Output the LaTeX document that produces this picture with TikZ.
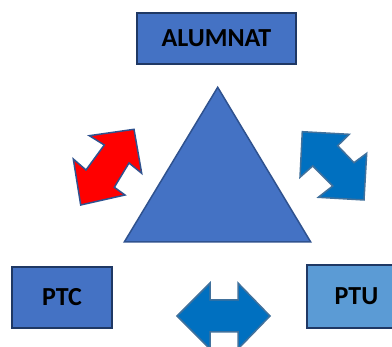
\documentclass[tikz,border=0pt]{standalone}
\usepackage{fontspec}
\setmainfont{Carlito}
\usepackage{tikz}

\definecolor{boxblue}{HTML}{4472C4}
\definecolor{boxlight}{HTML}{5B9BD5}
\definecolor{boxedge}{HTML}{1F3864}
\definecolor{arrblue}{HTML}{0070C0}
\definecolor{arredge}{HTML}{41719C}
\definecolor{triedge}{HTML}{2F528F}

\begin{document}
\begin{tikzpicture}[x=1pt,y=-1pt,
    main_box/.style={rectangle,draw=boxedge,line width=2pt,fill=boxblue,inner sep=0pt,
        font=\fontsize{26}{28}\selectfont\bfseries},
    blue_arrow/.style={fill=arrblue,draw=arredge,line width=1.5pt,line join=miter},
    red_arrow/.style={fill=red,draw=triedge,line width=1.5pt,line join=miter}]
    \useasboundingbox (0,0) rectangle (392,347);
	\node[main_box,minimum width=159pt,minimum height=51pt] (alumnat) at (216.5,38.5) {ALUMNAT};
    \node[main_box,minimum width=100pt,minimum height=61pt] (ptc) at (62,297.5) {PTC};
    \node[main_box,fill=boxlight,minimum width=99pt,minimum height=63pt] (ptu) at (356.5,296.5) {PTU};
    % triangle
    \draw[fill=boxblue,draw=triedge,line width=1.5pt,line join=miter]
        (217.7,87.3) -- (124.3,242) -- (310.7,242) -- cycle;
    % arrows
    \draw[red_arrow] (134,129.3) -- (141.7,173.3) -- (129,163) -- (114.3,187.3) -- (125,195)
        -- (80.7,205) -- (73.3,159) -- (86,170) -- (104.3,145) -- (89.3,135.7) -- cycle;
    \draw[blue_arrow] (302.3,131.7) -- (349.3,134.3) -- (337.7,145.7) -- (354,162.7) -- (366.7,153.3)
        -- (364,200) -- (318.3,197.3) -- (332.7,186) -- (312.7,166) -- (300,177.3) -- cycle;
    \draw[blue_arrow] (177,316) -- (210,283) -- (210,300) -- (238,300) -- (238,283) -- (270,316)
        -- (238,349) -- (238,332) -- (210,332) -- (210,349) -- cycle;
\end{tikzpicture}
\end{document}
